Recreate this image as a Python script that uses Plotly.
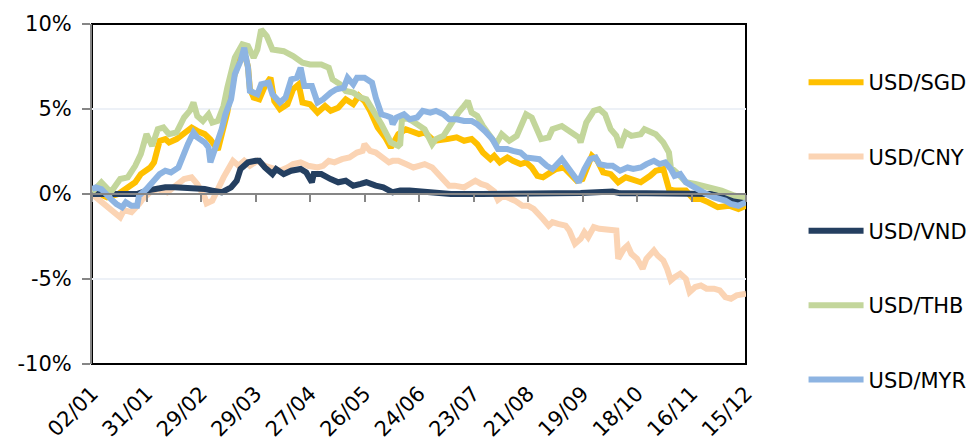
import pandas as pd
import plotly.graph_objects as go

# Exchange-rate change since the first trading day of 2016 (%), by day offset from 02/01/2016
start = pd.Timestamp("2016-01-02")
end = pd.Timestamp("2016-12-15")

sgd_days = [0, 8, 14, 18, 23, 26, 31, 33, 36, 39, 41, 45, 49, 53, 56, 60, 63, 67, 72, 75, 79, 81, 83, 84, 86, 89,
            92, 95, 97, 100, 104, 107, 110, 112, 116, 120, 124, 127, 131, 135, 139, 142, 145, 148, 152, 156, 159,
            163, 167, 171, 174, 177, 182, 189, 194, 198, 202, 205, 208, 212, 214, 217, 221, 224, 228, 231, 234,
            237, 240, 244, 247, 251, 254, 258, 261, 263, 266, 269, 272, 276, 280, 284, 288, 292, 297, 300, 304,
            307, 310, 316, 320, 324, 328, 333, 339, 344, 348]
sgd_vals = [0.2, -0.2, 0.0, 0.29, 0.69, 1.17, 1.56, 1.86, 3.13, 3.23, 3.03, 3.23, 3.62, 3.91, 3.71, 3.52, 3.2, 2.6,
            4.8, 6.7, 8.1, 8.3, 7.5, 6.2, 5.67, 5.57, 6.35, 6.84, 5.47, 4.99, 5.28, 6.16, 6.45, 5.38, 5.28, 4.79,
            5.18, 4.89, 5.08, 5.57, 5.28, 5.77, 5.47, 4.89, 3.91, 3.33, 2.74, 3.52, 3.81, 3.62, 3.52, 3.62, 3.13,
            3.23, 3.33, 3.13, 3.23, 2.93, 2.44, 2.05, 2.25, 1.86, 2.15, 1.95, 1.76, 1.86, 1.56, 1.07, 0.98, 1.27,
            1.47, 1.56, 1.17, 0.78, 0.88, 1.47, 2.25, 1.95, 1.27, 1.17, 0.69, 0.98, 0.88, 0.69, 1.07, 1.37, 1.47,
            0.29, 0.20, 0.20, -0.29, -0.29, -0.49, -0.78, -0.69, -0.88, -0.69]

cny_days = [0, 3, 7, 10, 15, 17, 21, 25, 27, 31, 35, 40, 45, 49, 53, 56, 60, 61, 64, 67, 70, 72, 75, 78, 81, 84, 88,
            92, 96, 100, 104, 107, 111, 115, 120, 123, 126, 129, 133, 137, 141, 144, 145, 148, 151, 154, 158, 160,
            163, 167, 171, 174, 177, 181, 184, 187, 190, 193, 198, 201, 204, 207, 210, 214, 216, 219, 222, 225,
            229, 232, 235, 238, 240, 243, 245, 248, 252, 254, 257, 260, 262, 264, 267, 270, 275, 279, 280, 283,
            285, 287, 290, 293, 295, 299, 301, 304, 306, 308, 310, 313, 316, 318, 321, 324, 327, 331, 334, 337,
            340, 343, 348]
cny_vals = [0.0, -0.29, -0.69, -0.88, -1.37, -0.95, -1.07, -0.59, -0.29, 0.10, 0.29, 0.10, 0.49, 0.88, 0.98, 0.59,
            -0.20, -0.55, -0.40, 0.39, 0.98, 1.37, 1.95, 1.66, 1.95, 1.66, 1.95, 1.66, 1.47, 1.37, 1.56, 1.76, 1.86,
            1.66, 1.56, 1.66, 1.95, 1.86, 2.05, 2.15, 2.44, 2.54, 2.93, 2.54, 2.44, 2.15, 1.86, 1.95, 1.95, 1.76,
            1.56, 1.66, 1.76, 1.56, 1.17, 0.78, 0.49, 0.49, 0.39, 0.59, 0.78, 0.59, 0.49, 0.15, -0.35, -0.10,
            -0.25, -0.39, -0.69, -0.69, -0.88, -1.20, -1.47, -1.86, -1.66, -1.76, -1.86, -2.15, -2.93, -2.64,
            -2.25, -2.54, -1.95, -2.05, -2.15, -2.15, -3.81, -3.23, -3.03, -3.52, -3.81, -4.40, -3.81, -3.32,
            -3.62, -3.91, -4.40, -5.08, -4.89, -4.69, -4.99, -5.77, -5.47, -5.38, -5.57, -5.57, -5.67, -6.06,
            -6.16, -5.96, -5.87]

vnd_days = [0, 12, 24, 29, 33, 39, 44, 49, 55, 60, 64, 69, 74, 77, 79, 83, 87, 89, 92, 96, 98, 102, 106, 111, 114,
            117, 118, 122, 127, 131, 135, 139, 143, 146, 151, 155, 160, 164, 169, 175, 180, 191, 207, 224, 242,
            260, 277, 281, 295, 313, 322, 330, 338, 343, 348]
vnd_vals = [0.0, 0.0, 0.0, 0.20, 0.29, 0.39, 0.39, 0.35, 0.39, 0.29, 0.20, 0.10, 0.39, 0.78, 1.47, 1.86, 1.95, 1.95,
            1.56, 1.17, 1.47, 1.17, 1.37, 1.47, 1.27, 0.69, 1.17, 1.17, 0.88, 0.69, 0.78, 0.49, 0.59, 0.69, 0.49,
            0.39, 0.10, 0.20, 0.20, 0.14, 0.14, 0.0, 0.0, 0.0, 0.04, 0.06, 0.14, 0.04, 0.04, 0.06, 0.0, 0.0,
            -0.20, -0.39, -0.39]

thb_days = [0, 5, 10, 15, 19, 23, 26, 29, 32, 35, 38, 41, 45, 49, 52, 54, 56, 59, 62, 64, 67, 70, 72, 76, 80, 83, 86,
            88, 90, 93, 96, 102, 107, 112, 116, 122, 126, 128, 132, 135, 139, 143, 146, 150, 154, 159, 163, 164,
            165, 169, 173, 177, 181, 183, 187, 190, 195, 198, 200, 202, 205, 208, 212, 215, 218, 222, 226, 229,
            231, 234, 237, 239, 243, 245, 250, 254, 259, 260, 263, 267, 270, 273, 276, 279, 281, 284, 287, 292,
            294, 300, 304, 307, 308, 312, 316, 321, 328, 335, 342, 348]
thb_vals = [0.1, 0.69, 0.10, 0.88, 0.98, 1.66, 2.35, 3.52, 2.83, 3.81, 3.91, 3.52, 3.62, 4.50, 4.89, 5.38, 4.59, 4.30,
            4.69, 4.20, 4.30, 5.18, 6.26, 8.02, 8.80, 8.70, 8.02, 8.50, 9.68, 9.29, 8.50, 8.40, 8.11, 7.72, 7.62,
            7.62, 7.43, 6.74, 6.45, 6.06, 5.96, 5.67, 5.57, 4.89, 4.10, 3.03, 2.83, 2.93, 4.50, 4.40, 4.10, 3.81,
            2.93, 3.23, 3.42, 4.00, 4.79, 5.18, 5.47, 4.79, 4.59, 4.00, 3.42, 2.93, 3.52, 3.13, 3.42, 4.10, 4.69,
            4.50, 3.71, 3.23, 3.33, 3.81, 4.00, 3.71, 3.33, 3.03, 4.20, 4.89, 4.99, 4.69, 3.81, 3.42, 2.74, 3.62,
            3.42, 3.52, 3.81, 3.52, 3.03, 2.44, 1.56, 1.17, 0.69, 0.59, 0.39, 0.20, -0.10, -0.20]

myr_days = [0, 2, 5, 8, 10, 13, 16, 18, 21, 24, 25, 29, 32, 36, 39, 42, 46, 48, 51, 54, 56, 60, 62, 63, 66, 69, 71,
            74, 76, 79, 81, 83, 84, 88, 90, 94, 96, 100, 103, 106, 109, 111, 113, 117, 120, 123, 127, 130, 134, 136,
            139, 141, 145, 149, 151, 154, 157, 159, 160, 162, 166, 169, 173, 176, 180, 183, 187, 190, 194, 198,
            202, 205, 209, 213, 216, 221, 224, 228, 231, 235, 238, 242, 245, 250, 253, 256, 259, 262, 265, 268,
            270, 274, 277, 281, 285, 288, 292, 295, 299, 302, 305, 308, 310, 313, 316, 319, 323, 327, 331, 334,
            337, 340, 344, 348]
myr_vals = [0.3, 0.39, 0.29, -0.10, -0.29, -0.59, -0.78, -0.49, -0.69, -0.69, -0.10, 0.29, 0.69, 1.17, 1.37, 1.27,
            1.56, 2.15, 2.93, 3.62, 3.33, 3.03, 2.74, 1.86, 2.74, 3.81, 4.69, 5.57, 7.04, 7.82, 8.60, 7.43, 6.06,
            5.87, 6.45, 6.55, 5.87, 5.38, 5.67, 6.74, 6.84, 7.43, 6.35, 6.35, 5.38, 5.57, 5.96, 6.16, 6.26, 6.84,
            6.45, 6.84, 6.84, 6.55, 5.67, 4.69, 4.59, 4.50, 4.10, 4.50, 4.69, 4.40, 4.50, 4.89, 4.79, 4.89, 4.69,
            4.40, 4.40, 4.30, 4.30, 4.10, 3.71, 3.23, 2.64, 2.64, 2.54, 2.44, 2.15, 2.05, 2.05, 1.66, 1.47, 2.05,
            1.56, 1.17, 0.69, 1.47, 2.05, 2.15, 1.76, 1.66, 1.66, 1.37, 1.56, 1.47, 1.56, 1.76, 1.95, 1.76, 1.86,
            1.47, 1.07, 1.17, 0.69, 0.49, 0.20, 0.00, -0.20, -0.29, -0.39, -0.59, -0.69, -0.49]

# y-axis ticks, labelled with a plain hyphen for negatives
y_tick_vals = [-10, -5, 0, 5, 10]
y_tick_text = ["-10%", "-5%", "0%", "5%", "10%"]

series = [
    ("USD/SGD", sgd_days, sgd_vals, "#FFC000"),
    ("USD/CNY", cny_days, cny_vals, "#FBD4B4"),
    ("USD/VND", vnd_days, vnd_vals, "#243F60"),
    ("USD/THB", thb_days, thb_vals, "#C3D69B"),
    ("USD/MYR", myr_days, myr_vals, "#8DB4E2"),
]

FONT = "DejaVu Sans"
TICK_STEP_MS = 29 * 24 * 3600 * 1000  # one tick every 29 days
x_range = [start, end]

fig = go.Figure()
for name, days, vals, color in series:
    dates = start + pd.to_timedelta(days, unit="D")
    fig.add_trace(go.Scatter(
        x=dates, y=vals, name=name, mode="lines", legendgroup=name,
        line=dict(color=color, width=6),
        hovertemplate="%{x|%d/%m}: %{y:.2f}%<extra>" + name + "</extra>",
    ))

# empty trace so the bottom label axis gets its own subplot
fig.add_trace(go.Scatter(x=[start], y=[None], xaxis="x2", showlegend=False, hoverinfo="skip"))

fig.update_layout(
    width=977, height=442,
    margin=dict(l=92, r=231, t=24, b=78, autoexpand=False),
    paper_bgcolor="white", plot_bgcolor="white",
    font=dict(family=FONT, size=21, color="black"),
    showlegend=True,
    legend=dict(
        x=1.088, xanchor="left", y=0.888, yanchor="top",
        tracegroupgap=44, itemwidth=55, maxheight=440,
        font=dict(family=FONT, size=21, color="black"),
        bgcolor="rgba(0,0,0,0)",
    ),
    # axis through 0 % carrying the date tick marks
    xaxis=dict(
        type="date", range=x_range, anchor="free", position=0.5, automargin=False,
        tick0=start, dtick=TICK_STEP_MS,
        showgrid=False, zeroline=False,
        showline=True, linecolor="#868686", linewidth=1.5,
        ticks="outside", ticklen=7, tickcolor="#868686", tickwidth=1.5,
        showticklabels=False,
    ),
    # date labels along the bottom of the plot
    xaxis2=dict(
        type="date", range=x_range, overlaying="x", anchor="y", side="bottom", automargin=False,
        tick0=start, dtick=TICK_STEP_MS, tickformat="%d/%m", tickangle=-45,
        showgrid=False, zeroline=False, showline=False, ticks="",
        ticklabelstandoff=12,
        tickfont=dict(family=FONT, size=21, color="black"),
    ),
    yaxis=dict(
        range=[-10, 10], tickmode="array", tickvals=y_tick_vals, ticktext=y_tick_text, automargin=False,
        showgrid=True, gridcolor="#EDF1F7", gridwidth=1.5, zeroline=False,
        showline=True, linecolor="#868686", linewidth=2,
        ticks="outside", ticklen=8, tickcolor="#868686", tickwidth=1.5,
        ticklabelstandoff=6,
        tickfont=dict(family=FONT, size=21, color="black"),
    ),
    shapes=[dict(
        type="rect", xref="paper", yref="paper", x0=0, x1=1, y0=0, y1=1,
        line=dict(color="black", width=2), layer="below",
    )],
)

fig.write_html("out.html")
